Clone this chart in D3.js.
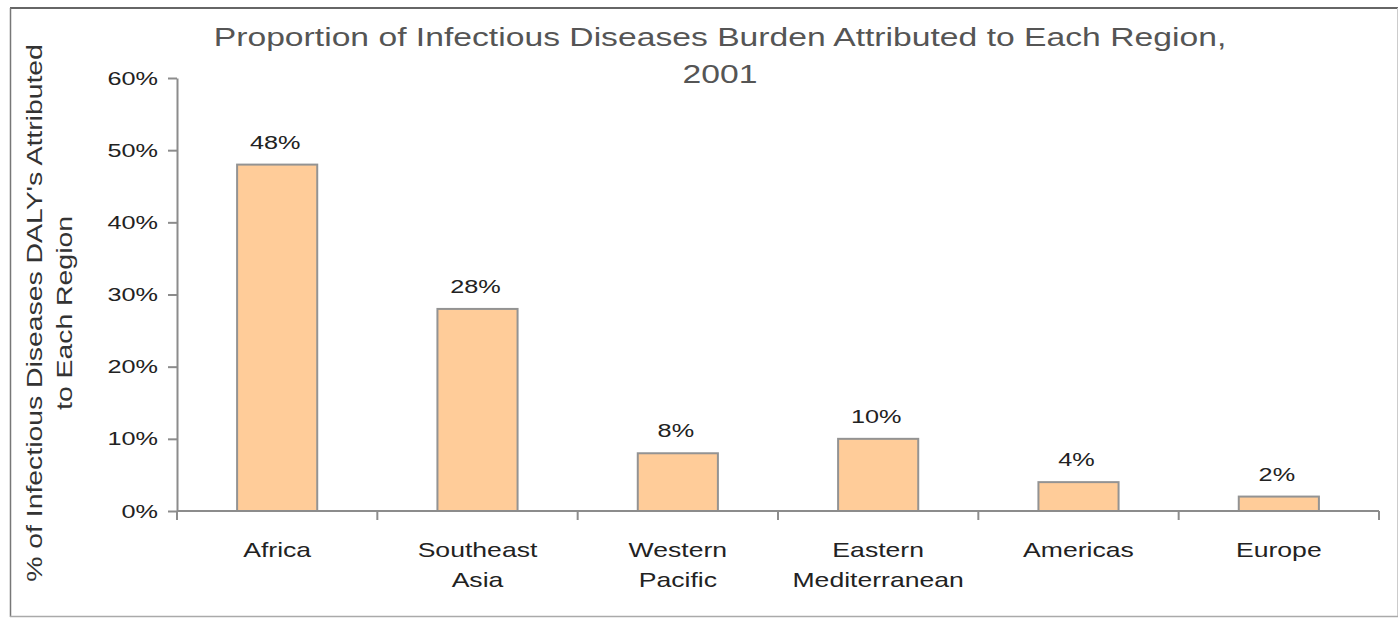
<!DOCTYPE html>
<html>
<head>
<meta charset="utf-8">
<script src="https://cdn.jsdelivr.net/npm/d3@7"></script>
<style>
  html, body { margin: 0; padding: 0; background: #fff; }
  svg { display: block; font-family: "Liberation Sans", Arial, sans-serif; }
</style>
</head>
<body>
<svg id="chart" width="1399" height="618"></svg>
<script>
// Regions and their share of the infectious-disease DALY burden (%)
const regions = [["Africa"], ["Southeast", "Asia"], ["Western", "Pacific"], ["Eastern", "Mediterranean"], ["Americas"], ["Europe"]];
const shares = [48, 28, 8, 10, 4, 2];
const yTicks = [0, 10, 20, 30, 40, 50, 60];
const titleLines = ["Proportion of Infectious Diseases Burden Attributed to Each Region,", "2001"];
const yTitleLines = ["% of Infectious Diseases DALY's Attributed", "to Each Region"];

const W = 1399, H = 618;
const margin = { left: 177, right: 20, top: 78, bottom: 107 };
const stretch = 1.33;   // wide lettering used throughout

const svg = d3.select("#chart");

// outer frame: darker top/left edges, light bottom/right
const frame = svg.append("g");
frame.append("line").attr("x1", 10).attr("x2", 1398).attr("y1", 8).attr("y2", 8).attr("stroke", "#666").attr("stroke-width", 2);
frame.append("line").attr("x1", 10.5).attr("x2", 10.5).attr("y1", 8).attr("y2", 617).attr("stroke", "#777").attr("stroke-width", 1.5);
frame.append("line").attr("x1", 1397.5).attr("x2", 1397.5).attr("y1", 8).attr("y2", 617).attr("stroke", "#ccc").attr("stroke-width", 1);
frame.append("line").attr("x1", 10).attr("x2", 1398).attr("y1", 616.5).attr("y2", 616.5).attr("stroke", "#aaa").attr("stroke-width", 1.5);

const x = d3.scaleBand()
  .domain(regions.map((r, i) => i))
  .range([margin.left, W - margin.right])
  .paddingInner(0.6)
  .paddingOuter(0.3);

const y = d3.scaleLinear()
  .domain([0, 60])
  .range([H - margin.bottom, margin.top]);

// helper: horizontally stretched text anchored at (tx, ty)
function stretchedText(sel, tx, ty, str, size, fill, rot, k) {
  return sel.append("text")
    .attr("transform", `translate(${tx},${ty})${rot ? " rotate(" + rot + ")" : ""} scale(${k || stretch},1)`)
    .attr("text-anchor", "middle")
    .attr("font-size", size)
    .attr("fill", fill)
    .text(str);
}

// title
titleLines.forEach((line, i) => {
  stretchedText(svg, 720, 46 + i * 37, line, 26, "#555", 0, 1.295);
});

// y-axis title (rotated, two lines)
yTitleLines.forEach((line, i) => {
  stretchedText(svg, 42 + i * 30, 313, line, 22, "#333", -90, 1.29);
});

// bars
svg.append("g").selectAll("rect")
  .data(shares)
  .join("rect")
  .attr("x", (d, i) => x(i))
  .attr("width", x.bandwidth())
  .attr("y", d => y(d))
  .attr("height", d => y(0) - y(d))
  .attr("fill", "#FFCC99")
  .attr("stroke", "#939393")
  .attr("stroke-width", 2);

// value labels
const vals = svg.append("g");
shares.forEach((d, i) => {
  stretchedText(vals, x(i) + x.bandwidth() / 2 - 2, y(d) - 16, d + "%", 19, "#222");
});

// y axis
const yAxis = svg.append("g")
  .attr("transform", `translate(${margin.left},0)`)
  .call(d3.axisLeft(y).tickValues(yTicks).tickSize(9).tickSizeOuter(0).tickFormat(d => d + "%"));
yAxis.select(".domain").attr("stroke", "#8c8c8c").attr("stroke-width", 2);
yAxis.selectAll(".tick line").attr("stroke", "#8c8c8c").attr("stroke-width", 2);
yAxis.selectAll(".tick text")
  .attr("font-family", "\"Liberation Sans\", Arial, sans-serif")
  .attr("font-size", 19)
  .attr("fill", "#222")
  .attr("x", -19 / stretch)
  .attr("transform", `scale(${stretch},1)`);

// x axis with ticks on category boundaries
const bounds = d3.range(regions.length + 1).map(i => margin.left + i * x.step());
const xAxis = svg.append("g");
xAxis.append("line")
  .attr("x1", margin.left).attr("x2", W - margin.right)
  .attr("y1", y(0)).attr("y2", y(0))
  .attr("stroke", "#8c8c8c").attr("stroke-width", 2);
xAxis.selectAll("line.tk")
  .data(bounds)
  .join("line")
  .attr("class", "tk")
  .attr("x1", d => d).attr("x2", d => d)
  .attr("y1", y(0)).attr("y2", y(0) + 9)
  .attr("stroke", "#8c8c8c").attr("stroke-width", 2);

// category labels
const cats = svg.append("g");
regions.forEach((lines, i) => {
  lines.forEach((line, j) => {
    stretchedText(cats, x(i) + x.bandwidth() / 2, 557 + j * 30, line, 20, "#222");
  });
});
</script>
</body>
</html>
